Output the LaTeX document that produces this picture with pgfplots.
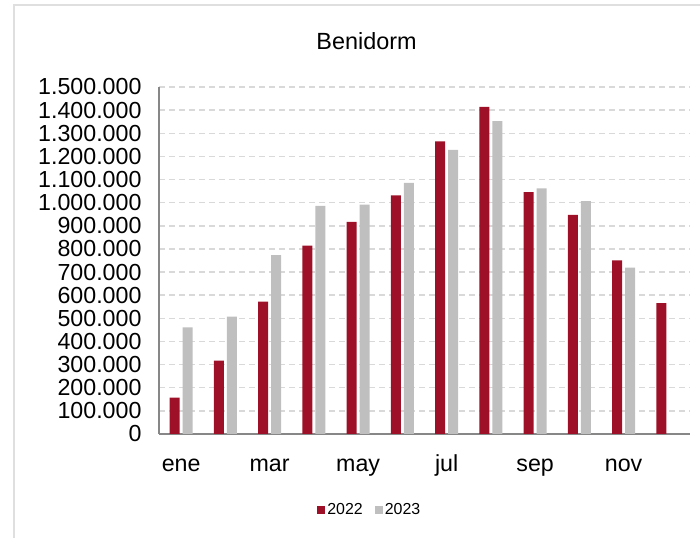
\documentclass[border=0pt]{standalone}
\usepackage{fontspec}
\setmainfont{Liberation Sans}
\usepackage{pgfplots}
\pgfplotsset{compat=1.18}
\definecolor{rojo}{HTML}{9E1027}
\definecolor{gris}{HTML}{BFBFBF}
\definecolor{rejilla}{HTML}{D9D9D9}
\definecolor{eje}{HTML}{878787}
\begin{document}
\begin{tikzpicture}[x=1bp,y=1bp]
\path[use as bounding box] (0,0) rectangle (700,538);
\draw[gray!25, line width=1.5bp] (14,0) -- (14,533) -- (700,533);
\node[font=\fontsize{23.5}{26}\selectfont, anchor=base] at (366.5,488) {Benidorm};
\begin{axis}[
    at={(159bp,104bp)}, anchor=south west,
    scale only axis, width=531bp, height=347bp,
    ybar=3bp, bar width=10bp,
    xmin=-0.5, xmax=11.5,
    ymin=0, ymax=1500000,
    enlarge y limits=false,
    ytick distance=100000,
    xtick={0,2,4,6,8,10},
    xticklabels={ene,mar,may,jul,sep,nov},
    major tick length=0pt,
    axis x line*=bottom, axis y line*=left,
    axis line style={eje, line width=1.5bp, -},
    ymajorgrids,
    grid style={rejilla, line width=1.5bp, dash pattern=on 6bp off 4bp},
    scaled y ticks=false,
    /pgf/number format/.cd, fixed, 1000 sep={.}, assume math mode=true,
    /pgfplots/.cd,
    tick label style={font=\fontsize{23.3}{26}\selectfont, black},
    yticklabel style={xshift=-14bp},
    xticklabel style={anchor=base, yshift=-37.7bp},
    legend style={at={(0.397,-0.219)}, anchor=center, draw=none,
        legend columns=-1, font=\fontsize{16}{18}\selectfont,
        /tikz/every even column/.append style={column sep=10bp}},
    legend image code/.code={\fill[#1] (0bp,-4bp) rectangle (8bp,4bp);},
]
\addplot[fill=rojo, draw=none] coordinates {
    (0,157000) (1,317000) (2,572000) (3,814000) (4,917000) (5,1032000)
    (6,1265000) (7,1414000) (8,1045000) (9,947000) (10,751000) (11,566000)};
\addplot[fill=gris, draw=none] coordinates {
    (0,461000) (1,507000) (2,773000) (3,986000) (4,991000) (5,1085000)
    (6,1228000) (7,1352000) (8,1062000) (9,1007000) (10,719000)};
\legend{2022,2023}
\end{axis}
\end{tikzpicture}
\end{document}
